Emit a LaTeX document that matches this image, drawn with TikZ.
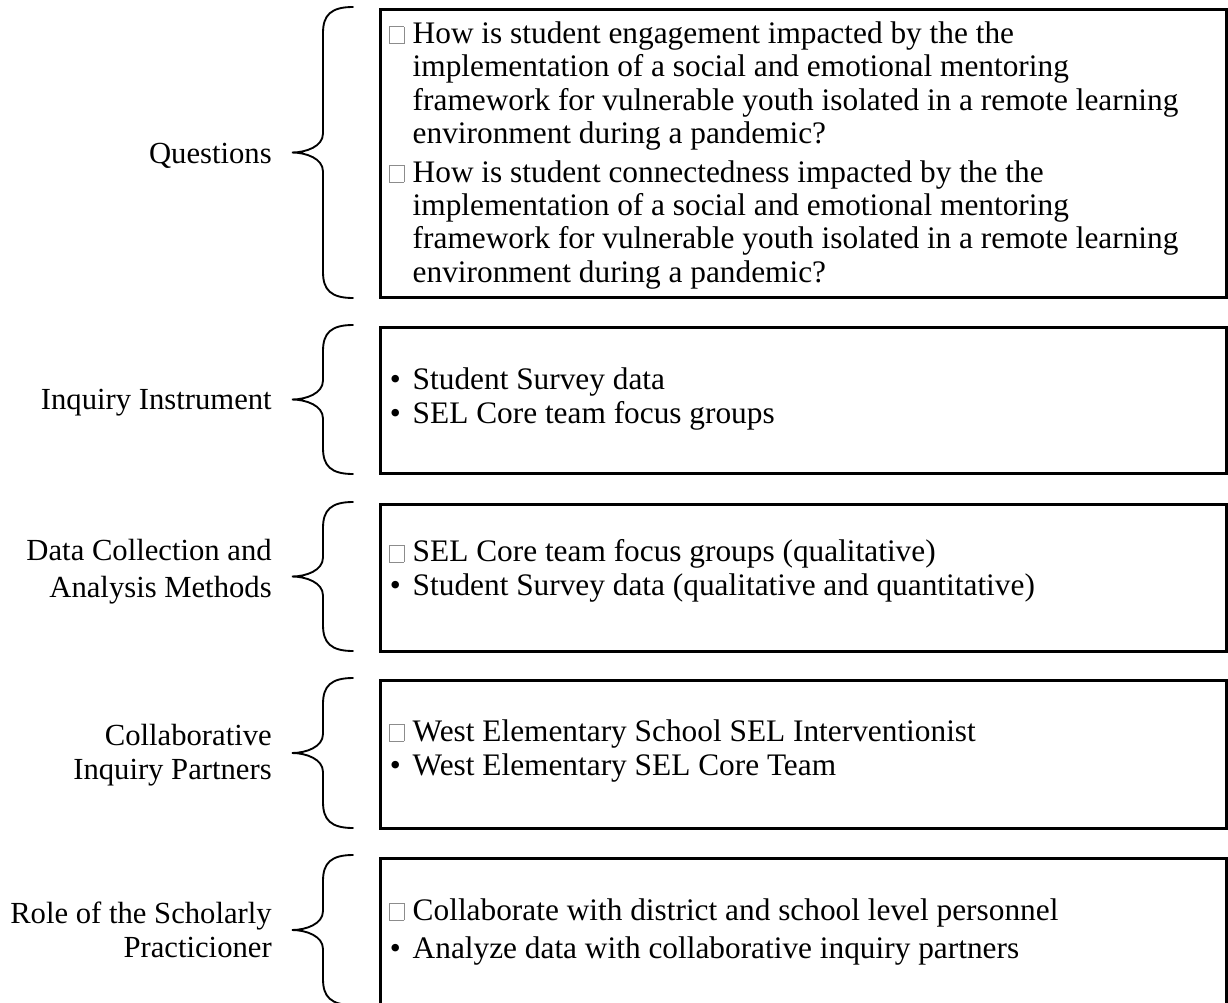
\documentclass[tikz,border=0pt]{standalone}
\usepackage{fontspec}
\setmainfont{Liberation Serif}
\newcommand\sqm{\makebox[17.6pt][l]{\color{black!45}\setlength\fboxsep{0pt}\setlength\fboxrule{0.5pt}\framebox{\rule{0pt}{12.3pt}\hspace{10.2pt}}}}
\newcommand\bul{\makebox[17.6pt][l]{\hspace{0.5pt}\textbullet}}
\newcommand\ind{\hspace*{17.6pt}}
\newcommand\tightlines{\setlength\lineskiplimit{-40pt}}
\newcommand\boxfont{\fontsize{23.5}{25}\selectfont\tightlines}
\newcommand\lblfont{\fontsize{23}{25}\selectfont\tightlines}
\newcommand\mybrace[2]{%
  \pgfmathsetmacro\bm{(#1+#2)/2}%
  \draw[brace] (353,#1) .. controls (331,#1) and (323,#1+8) .. (323,#1+26)
    -- (323,\bm-19) .. controls (323,\bm-6) and (306,\bm) .. (292,\bm)
    .. controls (306,\bm) and (323,\bm+6) .. (323,\bm+19)
    -- (323,#2-26) .. controls (323,#2-8) and (331,#2) .. (353,#2);}
\tikzset{
  box/.style={draw, line width=1.9pt, anchor=north west, minimum width=634.5pt, inner sep=0pt},
  brace/.style={line width=1.4pt, line cap=round},
  lbl/.style={anchor=base east, align=right, inner sep=0pt, font=\lblfont},
  txt/.style={anchor=base west, align=left, inner sep=0pt, font=\boxfont},
}
\begin{document}
\begin{tikzpicture}[x=0.75pt, y=-0.75pt]
\useasboundingbox (0,0) rectangle (1228,1003);
\clip (0,0) rectangle (1228,1003);
% boxes
\node[box, minimum height=216pt] (b1) at (379,8) {};
\node[box, minimum height=109.5pt] (b2) at (379,326) {};
\node[box, minimum height=110.25pt] (b3) at (379,503) {};
\node[box, minimum height=111pt] (b4) at (379,679) {};
\node[box, minimum height=120pt] (b5) at (379,857) {};
% braces
\mybrace{7}{298}
\mybrace{325}{474}
\mybrace{502}{651}
\mybrace{678}{828}
\mybrace{855}{1005}
% labels (anchored at the baseline of the last line)
\node[lbl] (l1) at (272,163) {Questions};
\node[lbl] (l2) at (272,409) {Inquiry Instrument};
\node[lbl] (l3) at (272,597) {Data Collection and\\[2.75pt]Analysis Methods};
\node[lbl] (l4) at (272,779) {Collaborative\\Inquiry Partners};
\node[lbl] (l5) at (272,957) {Role of the Scholarly\\Practicioner};
% box texts (anchored at the baseline of the last line)
\node[txt] (t1) at (389,282) {%
\sqm How is student engagement impacted by the the\\
\ind implementation of a social and emotional mentoring\\
\ind framework for vulnerable youth isolated in a remote learning\\
\ind environment during a pandemic?\\[4pt]
\sqm How is student connectedness impacted by the the\\
\ind implementation of a social and emotional mentoring\\
\ind framework for vulnerable youth isolated in a remote learning\\
\ind environment during a pandemic?};
\node[txt] (t2) at (389,423) {%
\bul Student Survey data\\[0.5pt]
\bul SEL Core team focus groups};
\node[txt] (t3) at (389,595) {%
\sqm SEL Core team focus groups (qualitative)\\
\bul Student Survey data (qualitative and quantitative)};
\node[txt] (t4) at (389,775) {%
\sqm West Elementary School SEL Interventionist\\[0.5pt]
\bul West Elementary SEL Core Team};
\node[txt] (t5) at (389,958) {%
\sqm Collaborate with district and school level personnel\\[3.5pt]
\bul Analyze data with collaborative inquiry partners};
\end{tikzpicture}
\end{document}
